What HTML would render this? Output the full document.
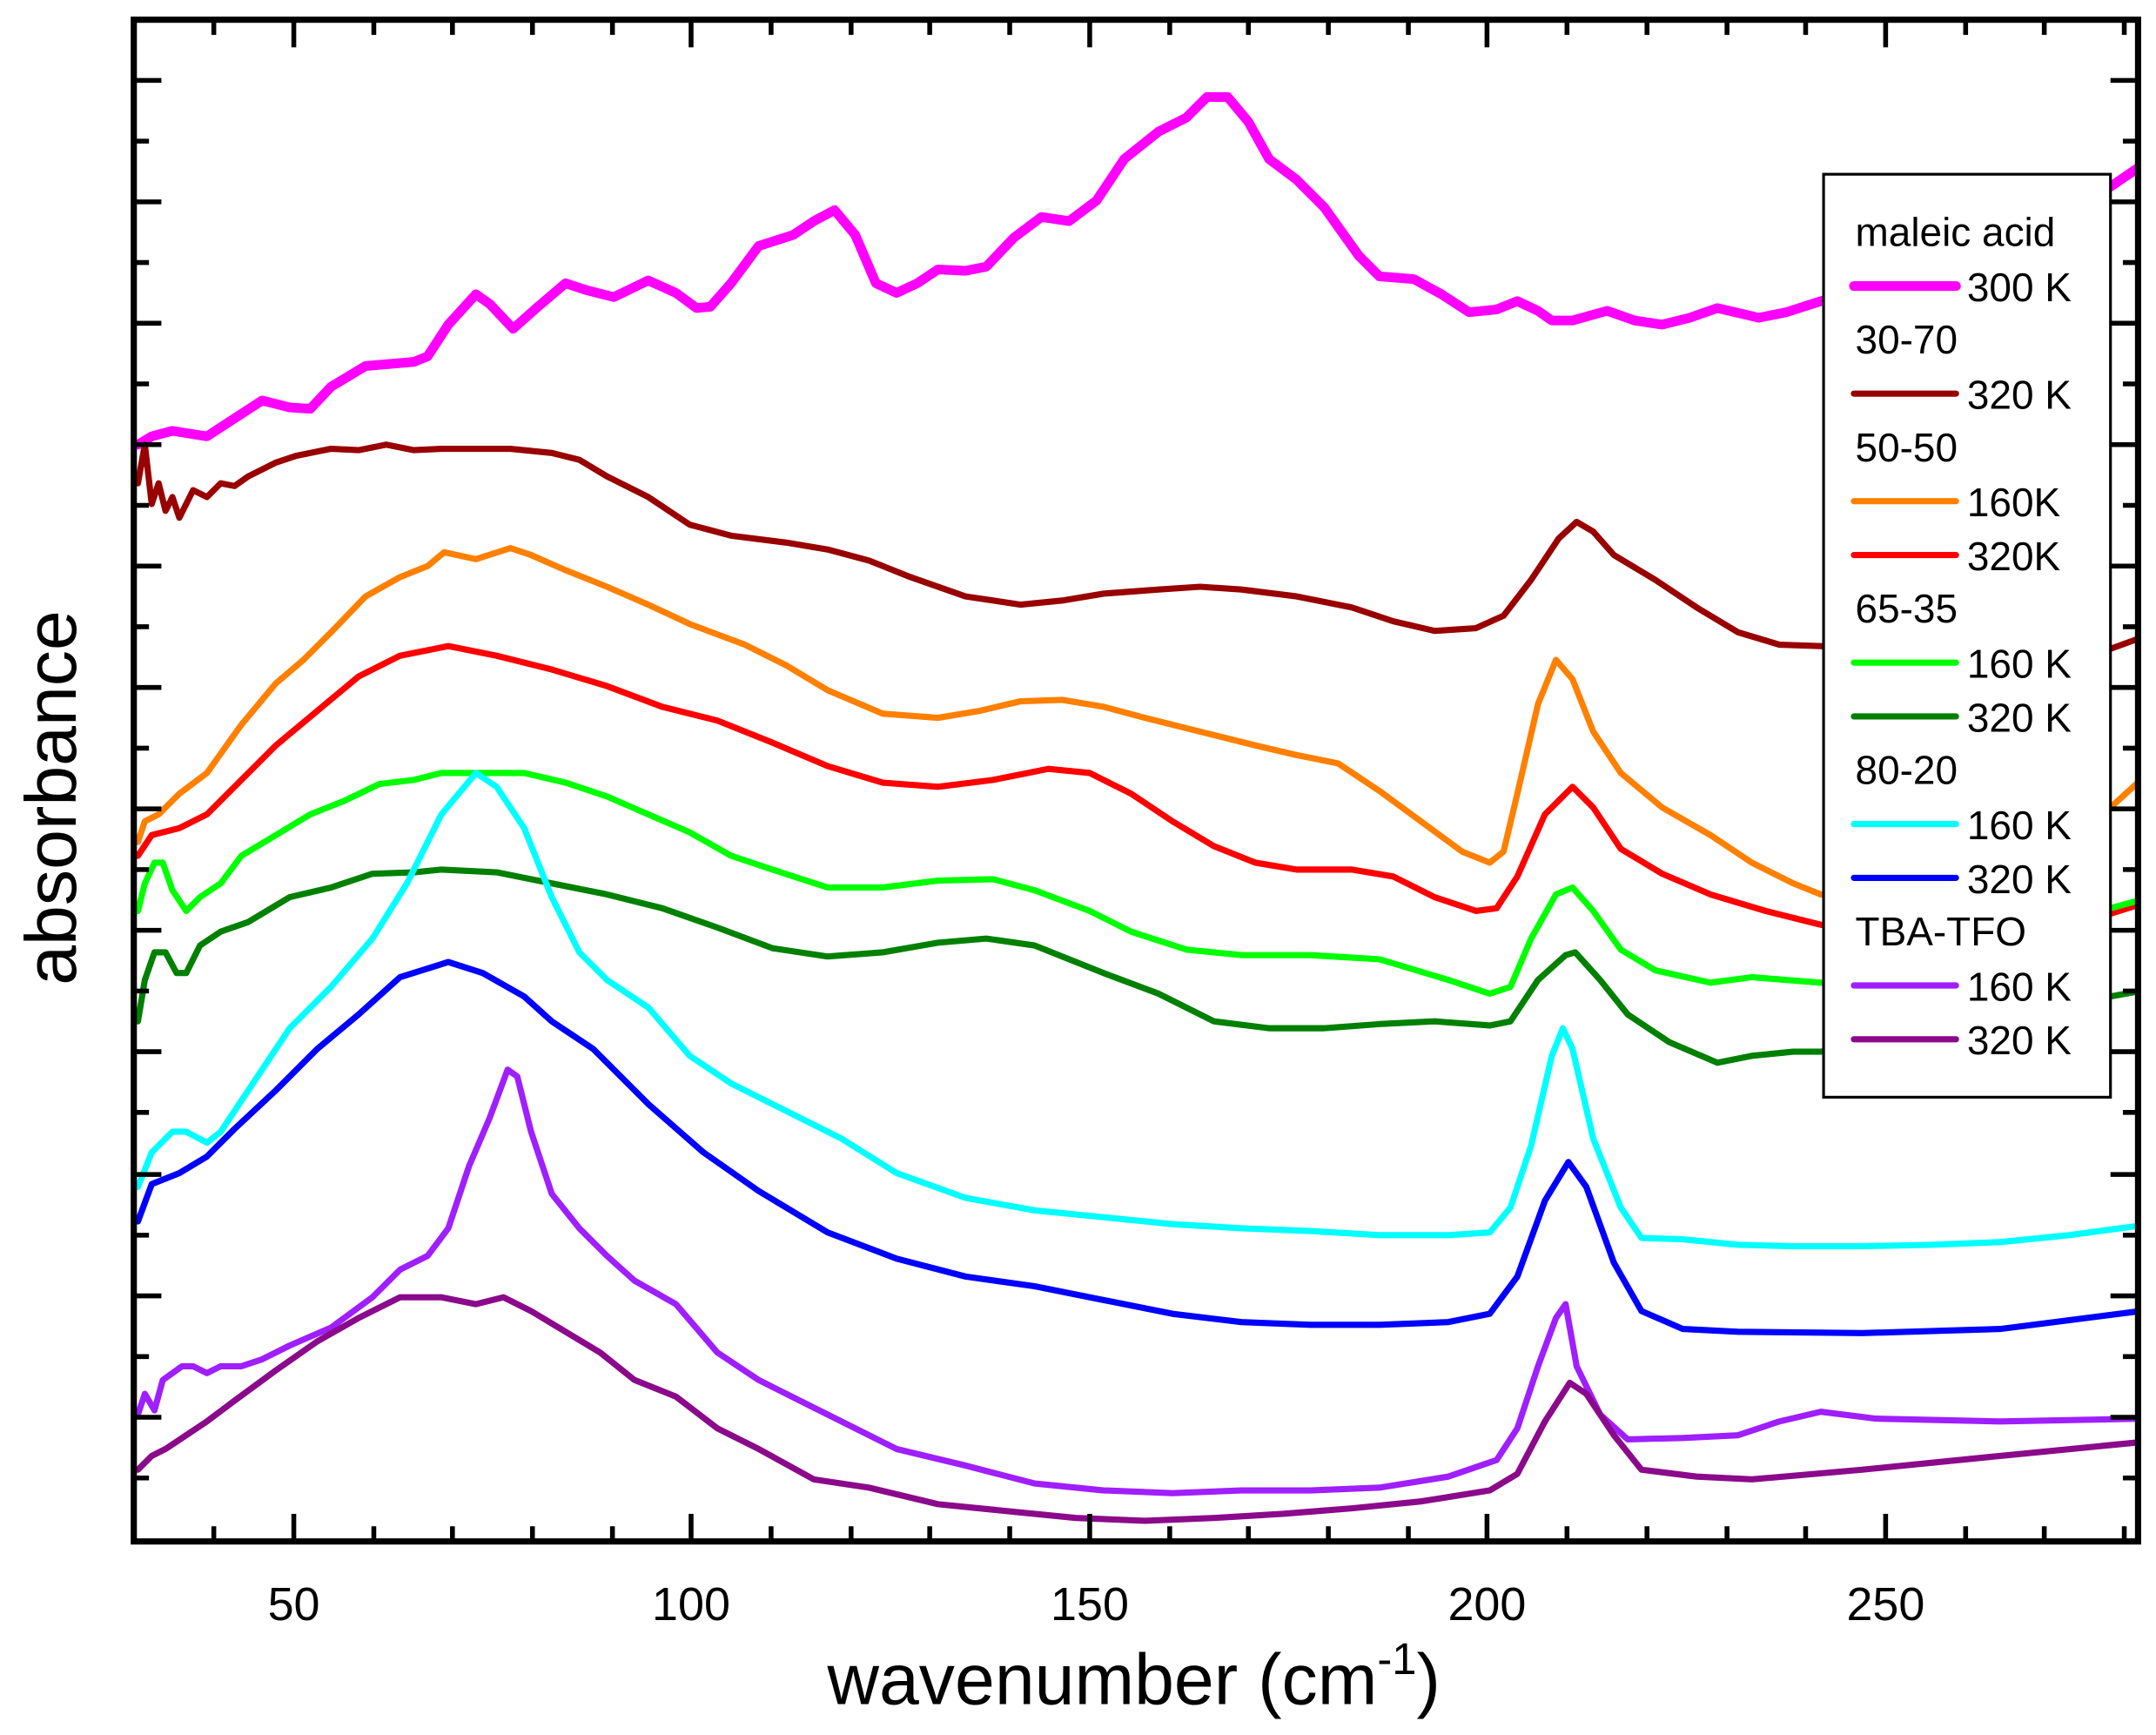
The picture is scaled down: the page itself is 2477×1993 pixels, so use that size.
<!DOCTYPE html>
<html><head><meta charset="utf-8"><style>html,body{margin:0;padding:0;background:#fff}svg{display:block}</style></head>
<body>
<svg width="2477" height="1993" viewBox="0 0 1563 1257" xmlns="http://www.w3.org/2000/svg" font-family="Liberation Sans, Arial, sans-serif">
<rect width="1563" height="1257" fill="#fff"/>
<defs><clipPath id="c"><rect x="97" y="14" width="1453" height="1103"/></clipPath></defs>
<g clip-path="url(#c)" fill="none" stroke-linejoin="round" stroke-linecap="round">
<polyline stroke="#ff00ff" stroke-width="7" points="100,322 110,316 125,312 150,316 170,303 190,290 210,295 225,296 240,280 265,265 300,262 310,258 325,235 345,213 355,220 372,238 390,222 410,205 425,210 445,215 470,203 490,212 505,223 515,222 530,205 550,178 575,170 590,160 605,152 620,170 635,205 650,212 665,205 680,195 700,196 715,193 735,172 755,157 775,160 795,145 815,115 840,95 860,85 875,70 890,70 905,88 920,115 940,130 960,150 985,185 1000,200 1025,202 1045,213 1065,226 1085,224 1100,218 1115,225 1125,232 1140,232 1165,225 1185,232 1205,235 1225,230 1245,223 1275,230 1295,226 1320,218 1420,190 1530,135 1552,120"/>
<polyline stroke="#990000" stroke-width="4.5" points="100,350 105,322 110,365 115,350 120,370 125,360 130,375 140,355 150,360 160,350 170,352 180,345 190,340 200,335 215,330 240,325 260,326 280,322 300,326 320,325 340,325 370,325 400,328 420,333 440,345 470,360 500,380 530,388 570,393 600,398 630,406 660,418 700,432 740,438 770,435 800,430 840,427 870,425 900,427 940,432 980,440 1010,450 1040,457 1070,455 1090,446 1110,420 1130,390 1143,378 1155,385 1170,402 1200,420 1230,440 1260,458 1290,467 1320,468 1420,470 1530,470 1552,462"/>
<polyline stroke="#ff8000" stroke-width="4.5" points="100,610 105,595 115,590 130,575 150,560 175,525 200,495 220,478 240,458 265,432 290,418 310,410 322,400 345,405 370,397 385,402 410,413 440,425 470,438 500,452 540,467 570,482 600,500 640,517 680,520 710,515 740,508 770,507 800,512 830,520 870,530 910,540 940,547 970,553 1000,573 1030,595 1060,617 1080,625 1090,617 1100,575 1115,510 1128,478 1140,492 1155,530 1175,560 1205,585 1240,605 1270,625 1300,640 1320,648 1420,640 1530,585 1552,565"/>
<polyline stroke="#ff0000" stroke-width="4.5" points="100,620 110,605 130,600 150,590 175,565 200,540 230,515 260,490 290,475 325,468 360,475 400,485 440,497 480,512 520,522 560,538 600,555 640,567 680,570 720,565 760,557 790,560 820,575 850,595 880,613 910,625 940,630 980,630 1010,635 1040,650 1070,660 1085,658 1100,635 1120,590 1140,570 1155,585 1175,615 1205,633 1240,648 1280,660 1320,670 1420,672 1530,662 1552,655"/>
<polyline stroke="#00ff00" stroke-width="4.5" points="100,660 105,640 112,625 118,625 125,645 135,660 145,650 160,640 175,620 200,605 225,590 250,580 275,568 300,565 320,560 345,560 380,560 410,567 440,577 470,590 500,603 530,620 560,630 600,643 640,643 680,638 720,637 750,645 790,660 820,675 860,688 900,692 950,692 1000,695 1050,710 1080,720 1095,715 1110,680 1128,648 1140,643 1155,660 1175,688 1200,703 1240,712 1270,708 1320,712 1420,700 1530,658 1552,652"/>
<polyline stroke="#008000" stroke-width="4.5" points="100,740 105,710 112,690 120,690 128,705 135,705 145,685 160,675 180,668 210,650 240,643 270,633 300,632 320,630 360,632 400,640 440,648 480,658 520,672 560,687 600,693 640,690 680,683 715,680 750,685 800,705 840,720 880,740 920,745 960,745 1000,742 1040,740 1080,743 1095,740 1115,710 1135,692 1142,690 1160,710 1180,735 1210,755 1245,770 1270,765 1300,762 1320,762 1420,750 1530,722 1552,718"/>
<polyline stroke="#00ffff" stroke-width="4.5" points="100,860 110,835 125,820 135,820 150,828 160,820 180,790 210,745 240,715 270,680 295,640 320,590 345,560 360,570 380,600 400,650 420,690 440,710 470,730 500,765 530,785 570,805 610,825 650,850 700,868 750,877 800,882 850,887 900,890 950,892 1000,895 1050,895 1080,893 1095,875 1110,830 1125,765 1133,745 1140,760 1155,825 1175,875 1190,897 1220,898 1260,902 1300,903 1350,903 1400,902 1450,900 1500,895 1552,888"/>
<polyline stroke="#0000ff" stroke-width="4.5" points="100,885 110,858 130,850 150,838 170,818 200,790 230,760 260,735 290,708 325,697 350,705 380,722 400,740 430,760 470,800 510,835 550,863 600,893 650,912 700,925 750,932 800,942 850,952 900,958 950,960 1000,960 1050,958 1080,952 1100,925 1120,870 1137,842 1150,860 1170,915 1190,950 1220,963 1260,965 1350,966 1450,963 1552,950"/>
<polyline stroke="#9f1fff" stroke-width="4.5" points="100,1025 105,1010 112,1022 118,1000 125,995 132,990 140,990 150,995 160,990 175,990 190,985 210,975 240,962 270,940 290,920 310,910 325,890 340,845 355,810 368,775 375,780 385,820 400,865 420,890 440,910 460,928 490,945 520,980 550,1000 580,1015 610,1030 650,1050 700,1062 750,1075 800,1080 850,1082 900,1080 950,1080 1000,1078 1050,1070 1085,1058 1100,1035 1115,990 1128,955 1135,945 1143,990 1160,1025 1180,1043 1220,1042 1260,1040 1290,1030 1320,1023 1360,1028 1450,1030 1552,1028"/>
<polyline stroke="#8b0a8b" stroke-width="4.5" points="100,1065 110,1055 120,1050 135,1040 150,1030 170,1015 200,993 230,972 260,955 290,940 320,940 345,945 365,940 385,950 410,965 435,980 460,1000 490,1012 520,1035 550,1050 590,1072 630,1078 680,1090 730,1095 780,1100 830,1102 880,1100 930,1097 980,1093 1030,1088 1080,1080 1100,1068 1120,1030 1138,1002 1150,1010 1170,1040 1190,1065 1230,1070 1270,1072 1350,1065 1450,1055 1552,1045"/>
</g>
<!-- legend -->
<rect x="1322" y="126" width="208" height="669" fill="#fff" stroke="#000" stroke-width="2"/>
<g font-size="29" fill="#000">
<text x="1345" y="178">maleic acid</text>
<text x="1426" y="218">300 K</text>
<text x="1345" y="256">30-70</text>
<text x="1426" y="296">320 K</text>
<text x="1345" y="334">50-50</text>
<text x="1426" y="374">160K</text>
<text x="1426" y="413">320K</text>
<text x="1345" y="451">65-35</text>
<text x="1426" y="491">160 K</text>
<text x="1426" y="530">320 K</text>
<text x="1345" y="568">80-20</text>
<text x="1426" y="608">160 K</text>
<text x="1426" y="647">320 K</text>
<text x="1345" y="685">TBA-TFO</text>
<text x="1426" y="725">160 K</text>
<text x="1426" y="764">320 K</text>
</g>
<g stroke-linecap="round">
<line x1="1344" y1="207" x2="1418" y2="207" stroke="#ff00ff" stroke-width="7"/>
<line x1="1344" y1="285" x2="1418" y2="285" stroke="#990000" stroke-width="4.5"/>
<line x1="1344" y1="363" x2="1418" y2="363" stroke="#ff8000" stroke-width="4.5"/>
<line x1="1344" y1="402" x2="1418" y2="402" stroke="#ff0000" stroke-width="4.5"/>
<line x1="1344" y1="480" x2="1418" y2="480" stroke="#00ff00" stroke-width="4.5"/>
<line x1="1344" y1="519" x2="1418" y2="519" stroke="#008000" stroke-width="4.5"/>
<line x1="1344" y1="597" x2="1418" y2="597" stroke="#00ffff" stroke-width="4.5"/>
<line x1="1344" y1="636" x2="1418" y2="636" stroke="#0000ff" stroke-width="4.5"/>
<line x1="1344" y1="714" x2="1418" y2="714" stroke="#9f1fff" stroke-width="4.5"/>
<line x1="1344" y1="753" x2="1418" y2="753" stroke="#8b0a8b" stroke-width="4.5"/>
</g>
<!-- frame & ticks -->
<g stroke="#000" stroke-width="3.5">
<rect x="97" y="14" width="1453" height="1103" fill="none" stroke-width="4.5"/>
<line x1="213" y1="1117" x2="213" y2="1097"/><line x1="501" y1="1117" x2="501" y2="1097"/><line x1="790" y1="1117" x2="790" y2="1097"/><line x1="1078" y1="1117" x2="1078" y2="1097"/><line x1="1367" y1="1117" x2="1367" y2="1097"/>
<line x1="213" y1="14" x2="213" y2="34"/><line x1="501" y1="14" x2="501" y2="34"/><line x1="790" y1="14" x2="790" y2="34"/><line x1="1078" y1="14" x2="1078" y2="34"/><line x1="1367" y1="14" x2="1367" y2="34"/>
<line x1="155" y1="1117" x2="155" y2="1106"/><line x1="271" y1="1117" x2="271" y2="1106"/><line x1="328" y1="1117" x2="328" y2="1106"/><line x1="386" y1="1117" x2="386" y2="1106"/><line x1="444" y1="1117" x2="444" y2="1106"/><line x1="559" y1="1117" x2="559" y2="1106"/><line x1="617" y1="1117" x2="617" y2="1106"/><line x1="674" y1="1117" x2="674" y2="1106"/><line x1="732" y1="1117" x2="732" y2="1106"/><line x1="848" y1="1117" x2="848" y2="1106"/><line x1="905" y1="1117" x2="905" y2="1106"/><line x1="963" y1="1117" x2="963" y2="1106"/><line x1="1021" y1="1117" x2="1021" y2="1106"/><line x1="1136" y1="1117" x2="1136" y2="1106"/><line x1="1194" y1="1117" x2="1194" y2="1106"/><line x1="1252" y1="1117" x2="1252" y2="1106"/><line x1="1309" y1="1117" x2="1309" y2="1106"/><line x1="1425" y1="1117" x2="1425" y2="1106"/><line x1="1482" y1="1117" x2="1482" y2="1106"/><line x1="1540" y1="1117" x2="1540" y2="1106"/>
<line x1="155" y1="14" x2="155" y2="25"/><line x1="271" y1="14" x2="271" y2="25"/><line x1="328" y1="14" x2="328" y2="25"/><line x1="386" y1="14" x2="386" y2="25"/><line x1="444" y1="14" x2="444" y2="25"/><line x1="559" y1="14" x2="559" y2="25"/><line x1="617" y1="14" x2="617" y2="25"/><line x1="674" y1="14" x2="674" y2="25"/><line x1="732" y1="14" x2="732" y2="25"/><line x1="848" y1="14" x2="848" y2="25"/><line x1="905" y1="14" x2="905" y2="25"/><line x1="963" y1="14" x2="963" y2="25"/><line x1="1021" y1="14" x2="1021" y2="25"/><line x1="1136" y1="14" x2="1136" y2="25"/><line x1="1194" y1="14" x2="1194" y2="25"/><line x1="1252" y1="14" x2="1252" y2="25"/><line x1="1309" y1="14" x2="1309" y2="25"/><line x1="1425" y1="14" x2="1425" y2="25"/><line x1="1482" y1="14" x2="1482" y2="25"/><line x1="1540" y1="14" x2="1540" y2="25"/>
<line x1="97" y1="58" x2="117" y2="58"/><line x1="97" y1="146" x2="117" y2="146"/><line x1="97" y1="234" x2="117" y2="234"/><line x1="97" y1="322" x2="117" y2="322"/><line x1="97" y1="410" x2="117" y2="410"/><line x1="97" y1="498" x2="117" y2="498"/><line x1="97" y1="586" x2="117" y2="586"/><line x1="97" y1="674" x2="117" y2="674"/><line x1="97" y1="762" x2="117" y2="762"/><line x1="97" y1="851" x2="117" y2="851"/><line x1="97" y1="939" x2="117" y2="939"/><line x1="97" y1="1027" x2="117" y2="1027"/>
<line x1="97" y1="102" x2="108" y2="102"/><line x1="97" y1="190" x2="108" y2="190"/><line x1="97" y1="278" x2="108" y2="278"/><line x1="97" y1="366" x2="108" y2="366"/><line x1="97" y1="454" x2="108" y2="454"/><line x1="97" y1="542" x2="108" y2="542"/><line x1="97" y1="630" x2="108" y2="630"/><line x1="97" y1="718" x2="108" y2="718"/><line x1="97" y1="806" x2="108" y2="806"/><line x1="97" y1="895" x2="108" y2="895"/><line x1="97" y1="983" x2="108" y2="983"/><line x1="97" y1="1071" x2="108" y2="1071"/>
<line x1="1550" y1="58" x2="1530" y2="58"/><line x1="1550" y1="146" x2="1530" y2="146"/><line x1="1550" y1="234" x2="1530" y2="234"/><line x1="1550" y1="322" x2="1530" y2="322"/><line x1="1550" y1="410" x2="1530" y2="410"/><line x1="1550" y1="498" x2="1530" y2="498"/><line x1="1550" y1="586" x2="1530" y2="586"/><line x1="1550" y1="674" x2="1530" y2="674"/><line x1="1550" y1="762" x2="1530" y2="762"/><line x1="1550" y1="851" x2="1530" y2="851"/><line x1="1550" y1="939" x2="1530" y2="939"/><line x1="1550" y1="1027" x2="1530" y2="1027"/>
<line x1="1550" y1="102" x2="1539" y2="102"/><line x1="1550" y1="190" x2="1539" y2="190"/><line x1="1550" y1="278" x2="1539" y2="278"/><line x1="1550" y1="366" x2="1539" y2="366"/><line x1="1550" y1="454" x2="1539" y2="454"/><line x1="1550" y1="542" x2="1539" y2="542"/><line x1="1550" y1="630" x2="1539" y2="630"/><line x1="1550" y1="718" x2="1539" y2="718"/><line x1="1550" y1="806" x2="1539" y2="806"/><line x1="1550" y1="895" x2="1539" y2="895"/><line x1="1550" y1="983" x2="1539" y2="983"/><line x1="1550" y1="1071" x2="1539" y2="1071"/>
</g>
<g font-size="34" fill="#000" text-anchor="middle">
<text x="213" y="1174">50</text><text x="501" y="1174">100</text><text x="790" y="1174">150</text><text x="1078" y="1174">200</text><text x="1367" y="1174">250</text>
</g>
<text x="822" y="1235" font-size="52" text-anchor="middle">wavenumber (cm<tspan font-size="32" dy="-22">-1</tspan><tspan dy="22">)</tspan></text>
<text transform="translate(55,578) rotate(-90)" font-size="52" text-anchor="middle">absorbance</text>
</svg>
</body></html>
